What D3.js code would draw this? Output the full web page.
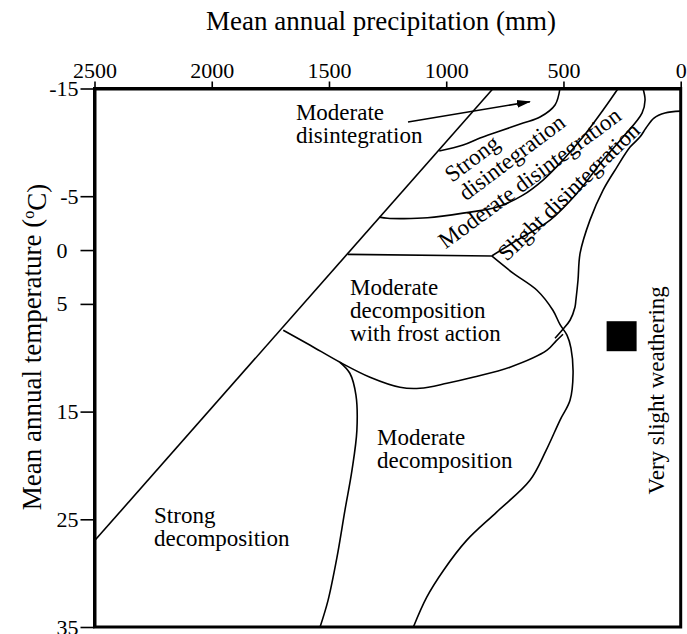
<!DOCTYPE html>
<html><head><meta charset="utf-8">
<script src="https://cdn.jsdelivr.net/npm/d3@7"></script>
<style>
body{margin:0;background:#fff}
svg{display:block}
svg text{font-family:"Liberation Serif","Times New Roman",Times,"DejaVu Serif",serif !important;fill:#000}
</style>
</head><body>
<svg id="chart" width="687" height="634" font-family="Liberation Serif, Times New Roman, serif"></svg>
<script>
// ---- Axis ticks ----
const precipTicks = [2500, 2000, 1500, 1000, 500, 0];
const tempTicks = [-15, -5, 0, 5, 15, 25, 35];

// ---- Boundary lines: [precipitation mm, temperature °C] ----
const diagonalLine = [[2500, 27], [800, -15]];
const moderateStrongDisint = [[515, -15], [536, -13.47], [600, -12.35], [672, -11.79], [783, -10.96], [856, -10.4], [928, -9.75], [1030, -9.2]];
const strongModerateDisint = [[267, -15], [331, -13.0], [417, -10.49], [502, -8.36], [587, -6.5], [673, -5.1], [783, -3.99], [928, -3.43], [1080, -3.0], [1180, -2.92], [1250, -2.95], [1285, -3.06]];
const moderateSlightDisint = [[161, -15], [152, -13.93], [165, -12.72], [246, -10.49], [331, -8.36], [442, -5.29], [557, -2.78], [698, -0.92], [806, 0.55]];
const zeroLine = [[1420, 0.4], [806, 0.55]];
const frostRightLine = [[806, 0.55], [715, 2.14], [613, 3.73], [545, 5.59], [515, 6.9], [485, 7.9], [468, 9.1], [459, 11.44], [472, 13.95], [515, 15.81], [574, 18.6], [643, 21.38], [785, 24.33], [913, 26.96], [1012, 29.75], [1083, 32.23], [1140, 35]];
const frostLowerLine = [[1695, 7.44], [1580, 8.84], [1453, 10.42], [1325, 11.81], [1197, 12.74], [1112, 12.83], [997, 12.37], [886, 11.81], [728, 10.88], [570, 9.3], [532, 8.46], [502, 7.82]];
const decompDivideLine = [[1453, 10.42], [1411, 11.44], [1385, 13.48], [1381, 16.74], [1402, 20.46], [1432, 24.17], [1466, 28.54], [1504, 32.53], [1538, 35]];
const verySlightLine = [[0, -12.9], [67, -12.72], [114, -12.26], [148, -11.33], [174, -10.49], [216, -9.56], [272, -7.7], [331, -5.57], [387, -2.78], [429, 0.29], [438, 2.8], [447, 4.66], [451, 5.31], [472, 6.52], [506, 7.45], [536, 8.19]];
const arrowLine = [[1163, -11.89], [643, -13.77]];
const sitePoints = [[252, 8.0]];

// ---- Region labels ----
const labelTexts = [["Moderate", "disintegration"], ["Strong", "disintegration"], ["Moderate disintegration"], ["Slight disintegration"], ["Moderate", "decomposition", "with frost action"], ["Moderate", "decomposition"], ["Strong", "decomposition"], ["Very slight weathering"]];
const labelAnchorsP = [1641, 975, 625, 455, 1410, 1295, 2246, 71];
const labelAnchorsT = [-12.07, -6.22, -6.12, -4.92, 4.19, 18.13, 25.38, 13.02];
const labelAngles = [0, -37, -36.4, -44, 0, 0, 0, -90];
const labelAlign = ["start", "start", "middle", "middle", "start", "start", "start", "middle"];

const FONT = '"Liberation Serif","Times New Roman",Times,"DejaVu Serif",serif';
const svg = d3.select("#chart");
const L = 94.5, R = 680.7, T0 = 88.5, B = 627;
const x = d3.scaleLinear().domain([2500, 0]).range([L, R]);
const y = d3.scaleLinear().domain([-15, 35]).range([T0, B]);

// arrow marker
svg.append("defs").append("marker")
  .attr("id", "arrowhead").attr("markerUnits", "userSpaceOnUse")
  .attr("viewBox", "0 -5 14 10").attr("refX", 13).attr("refY", 0)
  .attr("markerWidth", 14).attr("markerHeight", 10).attr("orient", "auto")
  .append("path").attr("d", "M0,-4L14,0L0,4Z").attr("fill", "#000");

const smooth = d3.line().x(d => x(d[0])).y(d => y(d[1])).curve(d3.curveCatmullRom.alpha(0.5));
const straight = d3.line().x(d => x(d[0])).y(d => y(d[1]));

const g = svg.append("g");
[moderateStrongDisint, strongModerateDisint, moderateSlightDisint, frostRightLine, frostLowerLine, decompDivideLine, verySlightLine].forEach(d => {
  g.append("path").attr("d", smooth(d)).attr("fill", "none").attr("stroke", "#000").attr("stroke-width", 1.6).attr("stroke-linejoin", "round");
});
[diagonalLine, zeroLine].forEach(d => {
  g.append("path").attr("d", straight(d)).attr("fill", "none").attr("stroke", "#000").attr("stroke-width", 1.6);
});
g.append("path").attr("d", straight(arrowLine)).attr("fill", "none").attr("stroke", "#000").attr("stroke-width", 1.6).attr("marker-end", "url(#arrowhead)");

// site square
const sq = 30;
g.selectAll("rect.site").data(sitePoints).join("rect").attr("class", "site")
  .attr("x", d => x(d[0]) - sq / 2).attr("y", d => y(d[1]) - sq / 2)
  .attr("width", sq).attr("height", sq).attr("fill", "#000");

// labels
labelTexts.forEach((lines, i) => {
  const t = svg.append("text")
    .attr("transform", `translate(${x(labelAnchorsP[i])},${y(labelAnchorsT[i])}) rotate(${labelAngles[i]})`)
    .attr("text-anchor", labelAlign[i]).attr("font-family", FONT).style("font-size", "23px");
  lines.forEach((s, j) => t.append("tspan").attr("x", 0).attr("y", j * 23).text(s));
});

// frame
svg.append("rect").attr("x", L).attr("y", T0).attr("width", R - L).attr("height", B - T0)
  .attr("fill", "none").attr("stroke", "#000").attr("stroke-width", 3);

// axes
const xAxis = svg.append("g").attr("transform", `translate(0,${T0})`)
  .call(d3.axisTop(x).tickValues(precipTicks).tickFormat(d3.format("d")).tickSize(7).tickSizeOuter(0).tickPadding(4));
xAxis.attr("font-family", FONT);
xAxis.select(".domain").attr("stroke-width", 3);
xAxis.selectAll(".tick line").attr("stroke-width", 1.6);
xAxis.selectAll(".tick text").attr("font-family", FONT).style("font-size", "22px");

const yAxis = svg.append("g").attr("transform", `translate(${L},0)`)
  .call(d3.axisLeft(y).tickValues(tempTicks).tickFormat(d => (d >= 0 && d < 10) ? d + "\u2007" : String(d)).tickSize(14).tickSizeOuter(0).tickPadding(2));
yAxis.attr("font-family", FONT);
yAxis.select(".domain").attr("stroke-width", 3);
yAxis.selectAll(".tick line").attr("stroke-width", 1.6);
yAxis.selectAll(".tick text").attr("font-family", FONT).style("font-size", "22px");

// axis titles
svg.append("text").attr("x", 381).attr("y", 30).attr("text-anchor", "middle").attr("font-family", FONT)
  .style("font-size", "27px").text("Mean annual precipitation (mm)");
const yl = svg.append("text").attr("transform", `translate(41,347) rotate(-90)`).attr("font-family", FONT)
  .attr("text-anchor", "middle").style("font-size", "27px");
yl.append("tspan").text("Mean annual temperature (");
yl.append("tspan").attr("dy", "-0.45em").style("font-size", "16px").text("o");
yl.append("tspan").attr("dy", "0.45em").text("C)");
</script>
</body></html>
